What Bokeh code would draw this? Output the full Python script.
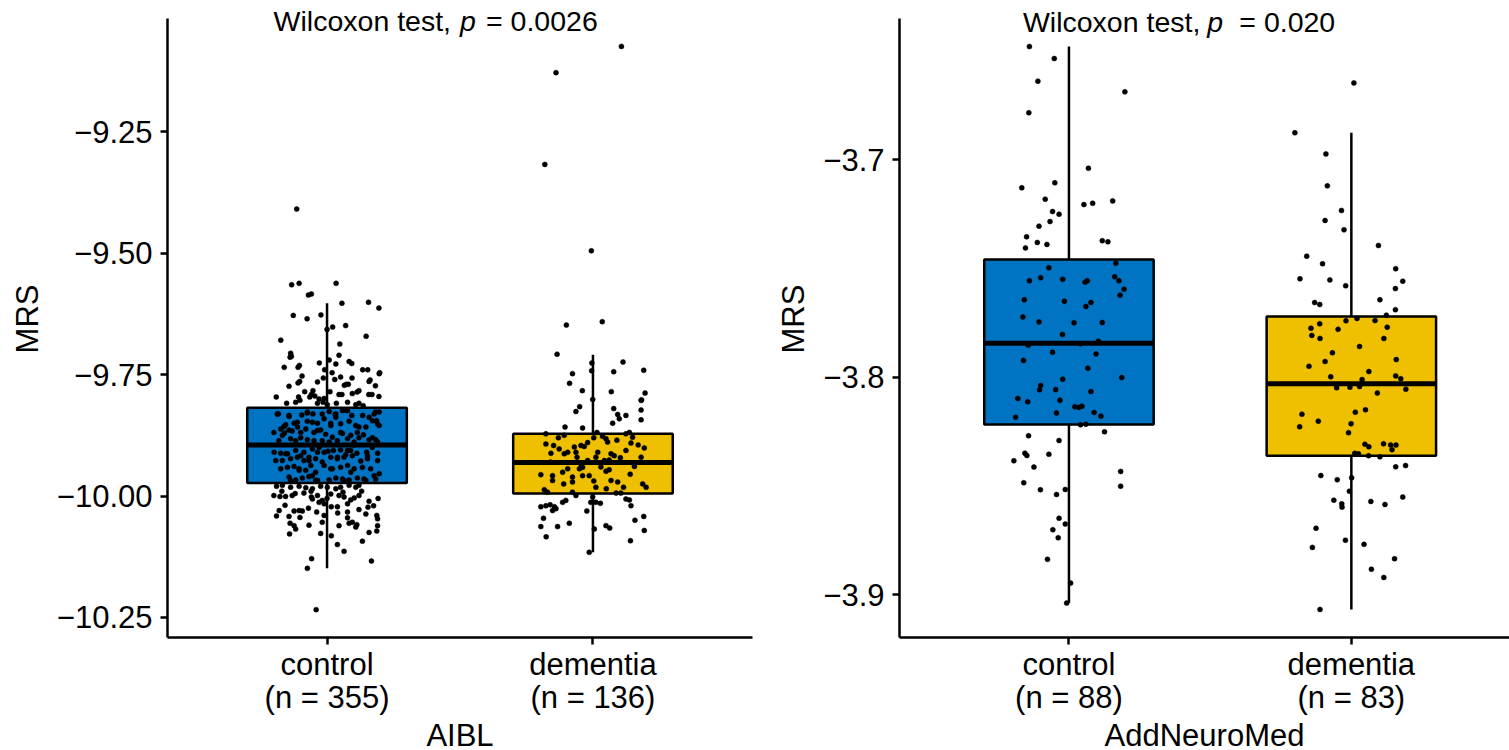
from bokeh.plotting import figure
from bokeh.layouts import row
from bokeh.models import FixedTicker, CustomJSTickFormatter, Label, Range1d
from bokeh.embed import file_html
from bokeh.resources import INLINE

FONT = "Liberation Sans"

groups = ["control", "dementia"]
box_colors = ["#0073C2", "#EFC000"]

# ---------------- AIBL ----------------
aibl_n = [355, 136]
aibl_q1 = [-9.973, -9.995]
aibl_median = [-9.895, -9.931]
aibl_q3 = [-9.818, -9.872]
aibl_whisker_low = [-10.149, -10.116]
aibl_whisker_high = [-9.603, -9.709]
aibl_p = "0.0026"
aibl_yticks = [-10.25, -10.0, -9.75, -9.5, -9.25]

aibl_control_jitter = [
    -0.114, -0.133, -0.105, 0.034, -0.070, -0.059, 0.056, 0.156, 0.195, -0.127,
    -0.075, -0.023, 0.021, 0.070, 0.000, 0.147, -0.174, 0.048, -0.137, -0.134,
    -0.139, 0.045, -0.161, -0.109, -0.104, -0.029, 0.008, 0.033, 0.083, 0.093,
    0.134, 0.153, 0.196, 0.198, -0.009, 0.019, -0.094, 0.051, 0.094, -0.109,
    -0.103, -0.036, -0.014, 0.029, 0.162, 0.158, -0.143, 0.065, 0.073, 0.080,
    0.182, -0.084, -0.053, 0.011, 0.120, 0.113, 0.095, 0.157, 0.169, -0.191,
    -0.107, -0.065, -0.059, -0.046, 0.045, 0.056, 0.195, -0.030, -0.011,
    -0.152, -0.118, -0.102, -0.036, -0.015, 0.001, 0.035, 0.077, 0.108, 0.120, 0.136,
    -0.183, -0.143, -0.095, -0.074, -0.053, -0.018, 0.008, 0.030, 0.058, 0.077, 0.093, 0.134, 0.158, 0.183, 0.196,
    -0.162, -0.156, -0.124, -0.112, -0.074, -0.055, -0.036, -0.011, 0.014, 0.033, 0.051, 0.083, 0.108, 0.146, 0.171, 0.186,
    -0.200, -0.168, -0.143, -0.131, -0.099, -0.080, -0.049, -0.024, -0.005, 0.020, 0.051, 0.058, 0.089, 0.114, 0.137, 0.171, 0.183, 0.196,
    -0.181, -0.137, -0.118, -0.099, -0.074, -0.049, -0.018, 0.008, 0.039, 0.077, 0.102, 0.120, 0.158, 0.190,
    -0.174, -0.149, -0.118, -0.087, -0.055, -0.036, 0.004, 0.024, 0.051, 0.070, 0.089, 0.112, 0.149, 0.190,
    -0.193, -0.168, -0.137, -0.112, -0.087, -0.068, -0.043, -0.018, 0.014, 0.039, 0.064, 0.095, 0.127, 0.152, 0.190,
    -0.149, -0.124, -0.105, -0.080, -0.061, -0.043, -0.011, 0.020, 0.051, 0.077, 0.102, 0.133, 0.164, 0.196,
    -0.143, -0.118, -0.093, -0.068, -0.036, 0.008, 0.033, 0.058, 0.083, 0.114, 0.146, 0.183,
    -0.190, -0.168, -0.137, -0.105, -0.080, -0.055, -0.024, 0.001, 0.033, 0.051, 0.083, 0.108, 0.120,
    -0.200, -0.177, -0.156, -0.131, -0.087, -0.059, -0.036, -0.018, 0.014, 0.045, 0.064, 0.089, 0.102, 0.120, 0.158, 0.192,
    -0.158, -0.055, -0.030, -0.011, 0.016, 0.039, 0.077,
    -0.190, -0.143, -0.124, -0.105, -0.093, -0.102, -0.039, -0.011, 0.077, 0.154, 0.146, 0.187, 0.190,
    -0.139, -0.118, -0.124, -0.068, -0.018, 0.045, 0.077, 0.083, 0.095, 0.108, 0.112, 0.190,
    -0.141, -0.024, 0.016, 0.158, 0.187,
    0.039, 0.064, 0.133, -0.058, 0.167, -0.074, -0.041,
    -0.187, -0.143, -0.074, 0.033, 0.070, 0.177, -0.174, -0.111, -0.036, 0.014,
    0.120, 0.190, -0.199, -0.155, -0.099, -0.068, -0.011, 0.039, 0.077, 0.152,
    -0.174, -0.105, -0.055, 0.014, 0.089, 0.177, -0.137, -0.043, 0.064, 0.139,
    -0.170, -0.120, -0.060, 0.000, 0.060, 0.130, 0.175, -0.180, -0.070, 0.040,
    0.120, -0.160, -0.030, 0.100, 0.170,
]
aibl_control_mrs = [
    -9.409, -9.565, -9.562, -9.562, -9.586, -9.584, -9.603, -9.601, -9.613, -9.628,
    -9.635, -9.627, -9.652, -9.649, -9.657, -9.671, -9.679, -9.687, -9.706, -9.712,
    -9.714, -9.710, -9.735, -9.735, -9.731, -9.726, -9.720, -9.728, -9.723, -9.727,
    -9.740, -9.740, -9.748, -9.746, -9.740, -9.746, -9.753, -9.755, -9.757, -9.767,
    -9.764, -9.765, -9.757, -9.760, -9.761, -9.764, -9.774, -9.772, -9.770, -9.770,
    -9.773, -9.785, -9.783, -9.785, -9.783, -9.786, -9.789, -9.791, -9.791, -9.796,
    -9.796, -9.796, -9.791, -9.794, -9.791, -9.791, -9.795, -9.800, -9.799,
    -9.809, -9.807, -9.803, -9.809, -9.807, -9.812, -9.809, -9.807, -9.812, -9.809, -9.814,
    -9.831, -9.836, -9.833, -9.829, -9.831, -9.831, -9.826, -9.832, -9.824, -9.824, -9.834, -9.834, -9.838, -9.827, -9.827,
    -9.857, -9.853, -9.850, -9.848, -9.846, -9.848, -9.850, -9.841, -9.850, -9.838, -9.851, -9.846, -9.855, -9.858, -9.845, -9.845,
    -9.869, -9.875, -9.864, -9.866, -9.869, -9.862, -9.869, -9.864, -9.873, -9.879, -9.869, -9.871, -9.875, -9.869, -9.874, -9.880, -9.884, -9.855,
    -9.886, -9.882, -9.886, -9.880, -9.884, -9.886, -9.886, -9.889, -9.886, -9.882, -9.889, -9.880, -9.884, -9.889,
    -9.912, -9.913, -9.906, -9.910, -9.903, -9.910, -9.908, -9.906, -9.905, -9.915, -9.906, -9.912, -9.910, -9.912,
    -9.927, -9.927, -9.923, -9.920, -9.927, -9.920, -9.923, -9.930, -9.920, -9.923, -9.920, -9.917, -9.928, -9.923, -9.927,
    -9.941, -9.939, -9.944, -9.947, -9.937, -9.951, -9.937, -9.944, -9.941, -9.937, -9.944, -9.941, -9.944, -9.954,
    -9.961, -9.967, -9.963, -9.960, -9.968, -9.967, -9.963, -9.965, -9.967, -9.963, -9.968, -9.965,
    -9.980, -9.978, -9.982, -9.980, -9.983, -9.985, -9.980, -9.982, -9.985, -9.982, -9.978, -9.982, -9.978,
    -9.999, -10.001, -10.001, -9.999, -9.994, -10.002, -9.999, -10.009, -9.996, -9.999, -10.002, -10.008, -10.004, -9.999, -10.011, -10.005,
    -10.019, -10.006, -10.013, -10.016, -10.022, -10.022, -10.016,
    -10.041, -10.042, -10.031, -10.030, -10.031, -10.044, -10.033, -10.040, -10.033, -10.023, -10.037, -10.040, -10.047,
    -10.056, -10.068, -10.061, -10.060, -10.054, -10.061, -10.045, -10.056, -10.054, -10.064, -10.059, -10.061,
    -10.078, -10.077, -10.082, -10.075, -10.072,
    -10.100, -10.114, -10.093, -10.129, -10.134, -10.149, -10.234,
    -9.831, -9.834, -9.827, -9.831, -9.824, -9.831, -9.862, -9.858, -9.865, -9.855,
    -9.858, -9.851, -9.910, -9.913, -9.917, -9.927, -9.910, -9.920, -9.906, -9.917,
    -9.944, -9.947, -9.958, -9.944, -9.951, -9.958, -9.968, -9.968, -9.968, -9.965,
    -9.990, -9.995, -9.990, -10.005, -9.992, -9.990, -10.020, -10.030, -10.025, -10.035,
    -10.028, -9.870, -9.900, -9.895, -9.900,
]

aibl_dementia_jitter = [
    0.107, -0.139, -0.181, -0.006, -0.100, 0.035, -0.135, -0.004, 0.113, -0.077,
    -0.005, 0.078, 0.191, -0.088, -0.040, 0.069, 0.196, 0.183, -0.001,
    -0.050, -0.064, 0.078, 0.181, 0.181, 0.093, 0.124, 0.099, 0.074, 0.181,
    -0.105, -0.039, -0.108, -0.177, 0.015, 0.003, 0.036, 0.055, 0.049, 0.124,
    0.137, 0.149, 0.143, -0.177, -0.148, -0.127, -0.158, -0.108, -0.095, -0.064,
    -0.070, -0.045, -0.033, 0.018, 0.068, 0.080, 0.103, 0.124, 0.193, -0.020,
    0.011, 0.043, 0.061, 0.156, 0.181, -0.045, -0.051, -0.039, -0.095, -0.114,
    -0.152, -0.196, -0.152, -0.077, -0.039, -0.014, 0.003, 0.049, 0.061, 0.068,
    0.093, 0.115, 0.011, -0.077, 0.187, 0.200, -0.183, -0.171, -0.077, -0.064,
    0.087, 0.105, 0.124, 0.137, -0.102, -0.114, -0.008, 0.011, 0.028, -0.001,
    -0.196, -0.177, -0.161, -0.145, -0.152, -0.139, -0.186, -0.023, 0.143, 0.158,
    0.191, -0.133, -0.089, -0.196, 0.005, 0.049, 0.063, 0.193, -0.176, 0.141,
    -0.014,
    -0.130, -0.020, 0.090, 0.170, -0.160, -0.060, 0.030, 0.140, -0.110, 0.050,
]
aibl_dementia_mrs = [
    -9.074, -9.128, -9.317, -9.495, -9.648, -9.641, -9.708, -9.726, -9.724, -9.748,
    -9.742, -9.744, -9.741, -9.768, -9.783, -9.785, -9.788, -9.802, -9.801,
    -9.816, -9.826, -9.820, -9.803, -9.823, -9.832, -9.834, -9.841, -9.850, -9.843,
    -9.858, -9.860, -9.875, -9.872, -9.869, -9.880, -9.877, -9.889, -9.882, -9.872,
    -9.869, -9.879, -9.891, -9.893, -9.896, -9.903, -9.912, -9.913, -9.910, -9.910,
    -9.899, -9.896, -9.898, -9.910, -9.913, -9.917, -9.921, -9.906, -9.901, -9.927,
    -9.920, -9.927, -9.926, -9.939, -9.920, -9.934, -9.944, -9.941, -9.944, -9.951,
    -9.958, -9.956, -9.968, -9.961, -9.958, -9.958, -9.969, -9.949, -9.946, -9.968,
    -9.971, -9.982, -9.982, -9.971, -9.975, -9.982, -9.987, -9.992, -9.992, -9.999,
    -9.994, -9.994, -10.006, -10.008, -10.009, -10.013, -10.013, -10.013, -10.015, -10.002,
    -10.022, -10.020, -10.018, -10.022, -10.030, -10.026, -10.046, -10.031, -10.020, -10.050,
    -10.042, -10.063, -10.056, -10.063, -10.068, -10.061, -10.066, -10.071, -10.084, -10.092,
    -10.116,
    -9.880, -9.890, -9.885, -9.895, -9.930, -9.920, -9.940, -9.955, -9.975, -9.985,
]

# ---------------- AddNeuroMed ----------------
anm_n = [88, 83]
anm_q1 = [-3.8217, -3.8361]
anm_median = [-3.7844, -3.8030]
anm_q3 = [-3.7459, -3.7721]
anm_whisker_low = [-3.9038, -3.9067]
anm_whisker_high = [-3.6481, -3.6877]
anm_p = "0.020"
anm_yticks = [-3.9, -3.8, -3.7]

anm_control_jitter = [
    -0.140, -0.052, -0.110, 0.198, -0.142, 0.069, -0.167, -0.050, -0.084, 0.053,
    0.084, 0.155, -0.058, -0.035, -0.067, -0.106, -0.150, -0.112, -0.078, -0.154,
    0.118, 0.138, 0.166, -0.071, -0.140, -0.100, -0.022, 0.057, 0.065, 0.162,
    0.177, 0.195, 0.181, -0.158, -0.016, 0.060, 0.078, -0.163, -0.106, 0.018,
    0.118, -0.023, -0.144, 0.104, -0.058, 0.096, -0.161, 0.067, 0.187, -0.022,
    -0.100, -0.104, -0.047, 0.078, -0.181, -0.146, -0.032, 0.021, 0.035, 0.046,
    -0.044, 0.089, 0.113, -0.189, 0.041, 0.060, 0.126, -0.143, -0.035, -0.156,
    -0.149, -0.071, -0.195, -0.124, 0.183, -0.160, 0.183, -0.101, -0.044, -0.013,
    -0.035, -0.013, -0.057, -0.038, -0.076, 0.006, -0.008, 0.041,
]
anm_control_mrs = [
    -3.6481, -3.6536, -3.6640, -3.6689, -3.6785, -3.7040, -3.7130, -3.7107, -3.7182, -3.7207,
    -3.7201, -3.7190, -3.7239, -3.7251, -3.7285, -3.7306, -3.7355, -3.7381, -3.7390, -3.7406,
    -3.7373, -3.7378, -3.7476, -3.7497, -3.7557, -3.7543, -3.7550, -3.7564, -3.7557, -3.7539,
    -3.7557, -3.7596, -3.7623, -3.7644, -3.7651, -3.7675, -3.7657, -3.7723, -3.7746, -3.7750,
    -3.7749, -3.7804, -3.7853, -3.7835, -3.7885, -3.7893, -3.7923, -3.7959, -3.8002, -3.8009,
    -3.8038, -3.8058, -3.8057, -3.8066, -3.8098, -3.8113, -3.8106, -3.8136, -3.8139, -3.8133,
    -3.8165, -3.8162, -3.8179, -3.8184, -3.8219, -3.8216, -3.8251, -3.8269, -3.8291, -3.8349,
    -3.8360, -3.8354, -3.8384, -3.8413, -3.8433, -3.8485, -3.8501, -3.8517, -3.8539, -3.8516,
    -3.8648, -3.8675, -3.8701, -3.8738, -3.8837, -3.8946, -3.9038, -3.7846,
]

anm_dementia_jitter = [
    0.009, -0.200, -0.090, -0.085, -0.035, -0.093, -0.026, 0.096, -0.158, -0.102,
    0.157, -0.182, -0.076, 0.182, -0.020, 0.156, -0.130, -0.112, 0.101, 0.156,
    0.124, 0.020, -0.019, 0.084, -0.112, -0.143, -0.047, 0.127, -0.140, -0.111,
    0.115, 0.029, -0.067, -0.093, 0.159, 0.062, -0.073, 0.157, 0.175, 0.038,
    -0.052, -0.005, 0.029, 0.193, 0.092, -0.175, -0.117, -0.183, 0.014, -0.001,
    -0.010, 0.048, 0.062, 0.114, 0.139, 0.158, 0.144, 0.012, 0.025, 0.061,
    0.101, 0.157, 0.192, -0.108, -0.050, 0.001, -0.007, 0.182, -0.062, -0.034,
    -0.033, 0.069, 0.119, -0.125, -0.021, -0.138, 0.045, 0.153, 0.071, 0.115,
    -0.111, 0.050, -0.150,
]
anm_dementia_mrs = [
    -3.6648, -3.6877, -3.6974, -3.7121, -3.7234, -3.7280, -3.7323, -3.7395, -3.7444, -3.7479,
    -3.7502, -3.7548, -3.7553, -3.7559, -3.7580, -3.7593, -3.7657, -3.7666, -3.7644, -3.7690,
    -3.7715, -3.7730, -3.7741, -3.7740, -3.7755, -3.7775, -3.7780, -3.7770, -3.7808, -3.7822,
    -3.7822, -3.7859, -3.7888, -3.7928, -3.7919, -3.7974, -3.7998, -3.7994, -3.8007, -3.8011,
    -3.8049, -3.8046, -3.8043, -3.8055, -3.8073, -3.8170, -3.8202, -3.8228, -3.8161, -3.8214,
    -3.8255, -3.8308, -3.8320, -3.8306, -3.8311, -3.8312, -3.8333, -3.8350, -3.8352, -3.8361,
    -3.8366, -3.8412, -3.8406, -3.8452, -3.8471, -3.8462, -3.8524, -3.8551, -3.8565, -3.8582,
    -3.8597, -3.8571, -3.8585, -3.8694, -3.8749, -3.8782, -3.8768, -3.8834, -3.8882, -3.8920,
    -3.9067, -3.8150, -3.7950,
]


def make_panel(dataset, n, q1, med, q3, wlo, whi, jitters, values, pval,
               yticks, ydigits, yaxis_span, px_per_unit, xend, frame_w, border_l, border_r,
               p_x, p_y, comma_off, eq_off):
    # extend the plotting area 18px above the axis so the annotation is not clipped
    ytop = yaxis_span[1] + 18.0 / px_per_unit
    p = figure(output_backend="svg", toolbar_location=None,
               frame_width=frame_w, frame_height=637,
               x_range=Range1d(0.4, xend), y_range=Range1d(yaxis_span[0], ytop),
               min_border_left=border_l, min_border_right=border_r,
               min_border_top=0, min_border_bottom=0,
               background_fill_color="white", border_fill_color="white")
    p.outline_line_color = None
    p.grid.visible = False

    xs = [i + 1 for i in range(len(groups))]
    p.segment(x0=xs, y0=wlo, x1=xs, y1=whi, line_color="black", line_width=2.5)
    p.vbar(x=xs, width=0.6, bottom=q1, top=q3, fill_color=box_colors,
           line_color="black", line_width=2.5)
    p.segment(x0=[x - 0.3 for x in xs], y0=med, x1=[x + 0.3 for x in xs], y1=med,
              line_color="black", line_width=5, line_cap="butt")
    for i, x in enumerate(xs):
        p.scatter(x=[x + j for j in jitters[i]], y=values[i], size=5,
                  fill_color="black", line_color="black", line_width=0.5)

    p.xaxis.ticker = FixedTicker(ticks=xs)
    p.xaxis.major_label_overrides = {x: f"{g}\n(n = {k})" for x, g, k in zip(xs, groups, n)}
    p.yaxis.ticker = FixedTicker(ticks=yticks)
    p.yaxis.bounds = (yaxis_span[0], yaxis_span[1])
    p.yaxis.formatter = CustomJSTickFormatter(args=dict(d=ydigits), code="""
        const s = Math.abs(tick).toFixed(d);
        return (tick < 0 ? "\u2212" : "") + s;
    """)
    p.xaxis.axis_label = dataset
    p.yaxis.axis_label = "MRS"
    for ax in p.axis:
        ax.axis_line_color = "black"
        ax.axis_line_width = 2.5
        ax.major_tick_line_color = "black"
        ax.major_tick_line_width = 2.5
        ax.major_tick_out = 7
        ax.major_tick_in = 0
        ax.minor_tick_out = 0
        ax.minor_tick_in = 0
        ax.major_label_text_font = FONT
        ax.major_label_text_font_size = "31px"
        ax.major_label_text_color = "black"
        ax.axis_label_text_font = FONT
        ax.axis_label_text_font_size = "31px"
        ax.axis_label_text_font_style = "normal"
        ax.axis_label_text_color = "black"
    p.yaxis.major_label_standoff = 8
    p.yaxis.axis_label_standoff = 9
    p.xaxis.major_label_standoff = 2
    p.xaxis.major_label_text_line_height = 0.95
    p.xaxis.axis_label_standoff = 0

    common = dict(x=p_x, y=p_y, x_units="data", y_units="data",
                  text_font=FONT, text_font_size="28.5px", text_color="black",
                  text_baseline="alphabetic")
    p.add_layout(Label(text="Wilcoxon test,", text_align="right", x_offset=comma_off, **common))
    p.add_layout(Label(text="p", text_align="left", text_font_style="italic", **common))
    p.add_layout(Label(text="= " + pval, text_align="left", x_offset=eq_off, **common))
    return p


left = make_panel("AIBL", aibl_n, aibl_q1, aibl_median, aibl_q3,
                  aibl_whisker_low, aibl_whisker_high,
                  [aibl_control_jitter, aibl_dementia_jitter],
                  [aibl_control_mrs, aibl_dementia_mrs], aibl_p,
                  aibl_yticks, 2, (-10.2914, -9.0165), 485.5, 2.6, 585, 167, 8,
                  1.50, -9.0226, -9, 26)
right = make_panel("AddNeuroMed", anm_n, anm_q1, anm_median, anm_q3,
                   anm_whisker_low, anm_whisker_high,
                   [anm_control_jitter, anm_dementia_jitter],
                   [anm_control_mrs, anm_dementia_mrs], anm_p,
                   anm_yticks, 1, (-3.9196, -3.6352), 2177.0, 2.560, 610, 139, 0,
                   1.490, -3.6366, -7, 32)

layout = row(left, right)
open("out.html", "w").write(file_html(layout, INLINE))
